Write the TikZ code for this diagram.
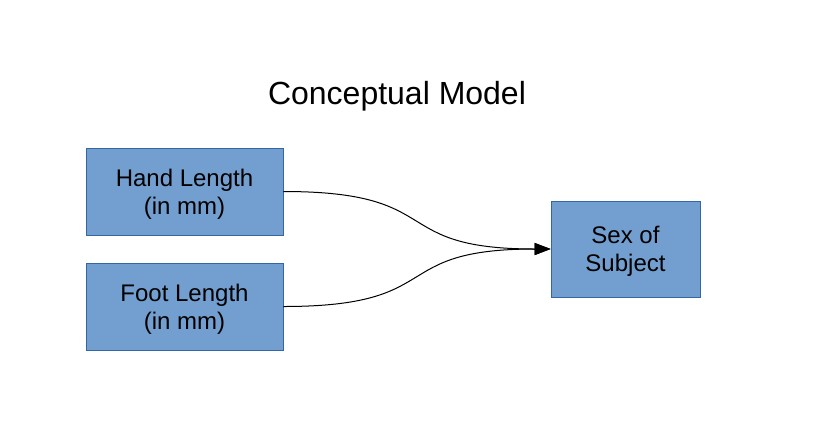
\documentclass[tikz,border=0pt]{standalone}
\usepackage{fontspec}
\setmainfont{Liberation Sans}
\usetikzlibrary{arrows.meta}
\definecolor{boxblue}{HTML}{729FCF}
\definecolor{boxline}{HTML}{3465A4}
\tikzset{
    varbox/.style={draw=boxline, fill=boxblue, line width=0.8pt, inner sep=0pt},
    vartext/.style={align=center, font=\fontsize{24}{28}\selectfont},
    link/.style={line width=1pt, -{Triangle[length=16pt,width=12pt]}}
}
\begin{document}
\begin{tikzpicture}[x=1pt,y=-1pt]
        \useasboundingbox
            (0,0) rectangle (816,432);
        \node[font=\fontsize{32}{38}\selectfont] (title)
            at (397,96) {Conceptual Model};
        % boxes
        \node[varbox, minimum width=197pt, minimum height=87pt] (hand)
            at (184.5,191.5) {};
        \node[varbox, minimum width=197pt, minimum height=87pt] (foot)
            at (184.5,306.5) {};
        \node[varbox, minimum width=149pt, minimum height=96pt] (sex)
            at (625.5,249) {};
        % texts
        \node[vartext] (handtext)
            at ([yshift=-2.5pt]hand.center) {Hand Length\\(in mm)};
        \node[vartext] (foottext)
            at ([yshift=-2.5pt]foot.center) {Foot Length\\(in mm)};
        \node[vartext] (sextext)
            at ([yshift=-2.5pt]sex.center) {Sex of\\Subject};
        % links
        \draw[link]
            (hand.east) .. controls +(165,0) and +(-165,0) .. (sex.west);
        \draw[link]
            (foot.east) .. controls +(165,0) and +(-165,0) .. (sex.west);
    \end{tikzpicture}
\end{document}
